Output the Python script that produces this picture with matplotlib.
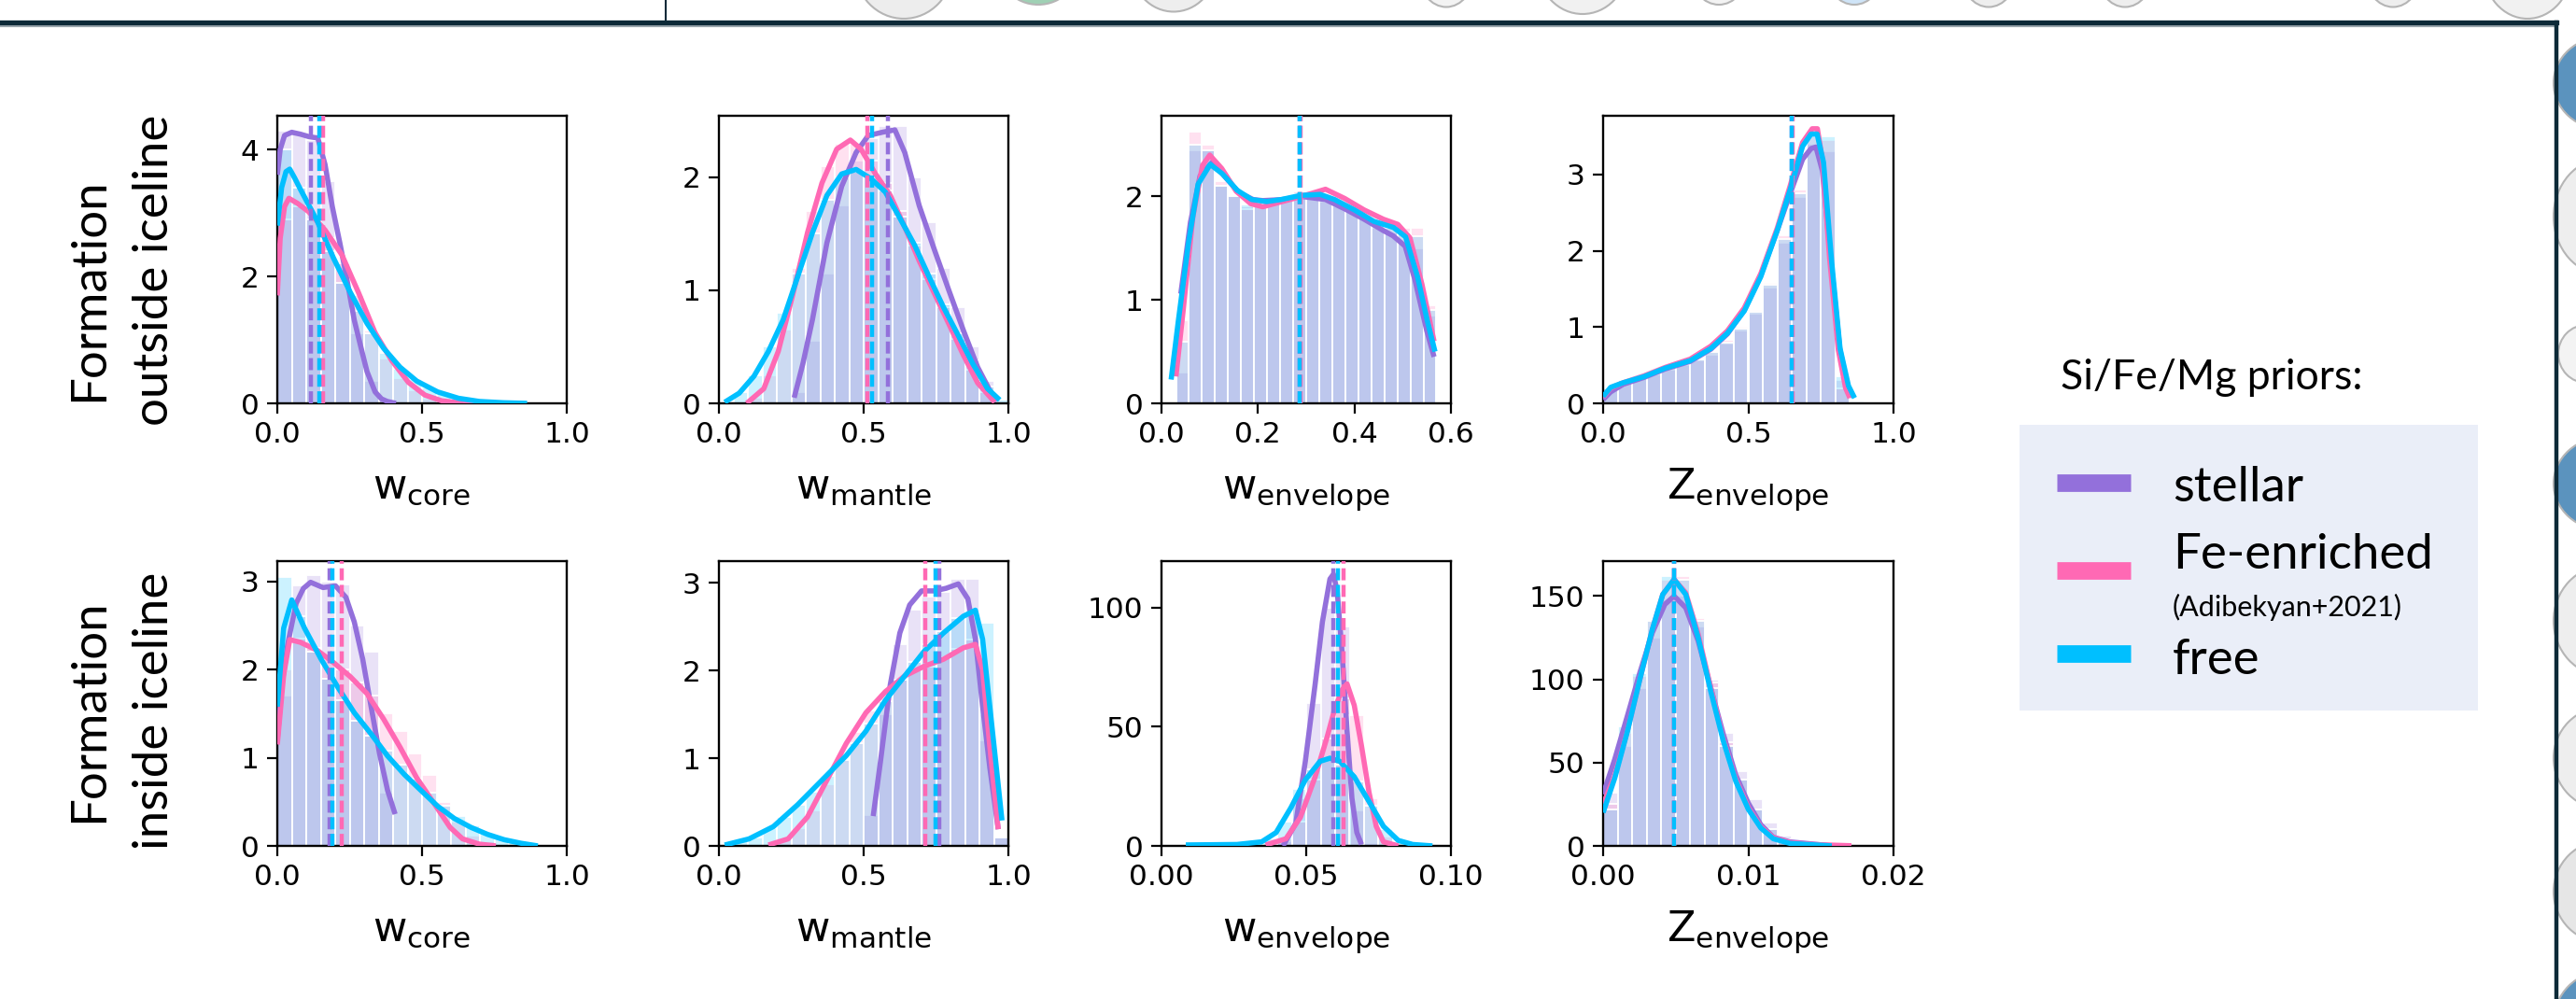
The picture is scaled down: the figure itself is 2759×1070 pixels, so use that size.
import matplotlib
matplotlib.use("Agg")
import matplotlib.pyplot as plt
from matplotlib.patches import Rectangle, Ellipse
from matplotlib.lines import Line2D
from matplotlib.colors import to_rgba

W, H = 2759, 1070

priors = ["stellar", "Fe-enriched", "free"]
prior_colors = ["#9370db", "#ff69b4", "#00bfff"]

# ---------------- formation outside iceline ----------------
out_core_kde_stellar = [(0.0, 3.6), (0.01, 4.0), (0.025, 4.22), (0.05, 4.27), (0.08, 4.24), (0.11, 4.2),
                        (0.14, 4.18), (0.165, 3.76), (0.19, 3.1), (0.216, 2.53), (0.237, 2.04), (0.266, 1.31),
                        (0.295, 0.77), (0.31, 0.5), (0.338, 0.18), (0.36, 0.07), (0.38, 0.03), (0.41, 0.0)]
out_core_kde_fe = [(0.0, 1.7), (0.01, 2.6), (0.025, 3.1), (0.04, 3.23), (0.07, 3.15), (0.108, 3.02),
                   (0.165, 2.73), (0.223, 2.34), (0.28, 1.75), (0.338, 1.11), (0.396, 0.67), (0.453, 0.33),
                   (0.51, 0.13), (0.568, 0.04), (0.626, 0.01), (0.7, 0.0)]
out_core_kde_free = [(0.0, 2.8), (0.015, 3.4), (0.03, 3.65), (0.043, 3.69), (0.06, 3.55), (0.08, 3.37),
                     (0.137, 2.88), (0.194, 2.29), (0.252, 1.75), (0.31, 1.26), (0.367, 0.87), (0.424, 0.57),
                     (0.482, 0.35), (0.554, 0.18), (0.626, 0.08), (0.698, 0.03), (0.78, 0.01), (0.863, 0.0)]
out_core_hist_stellar = [4.3, 4.25, 4.15, 3.5, 2.2, 1.1, 0.35, 0.05]
out_core_hist_fe = [2.9, 3.1, 2.9, 2.6, 2.2, 1.7, 1.15, 0.7, 0.4, 0.2, 0.08, 0.03, 0.01]
out_core_hist_free = [4.0, 3.4, 2.9, 2.4, 1.9, 1.45, 1.1, 0.8, 0.55, 0.38, 0.25, 0.15, 0.09, 0.05, 0.03,
                      0.015, 0.01]
out_core_medians = [0.115, 0.158, 0.144]

out_mantle_kde_stellar = [(0.26, 0.05), (0.29, 0.35), (0.323, 0.74), (0.373, 1.42), (0.424, 1.92), (0.474, 2.22),
                          (0.516, 2.37), (0.566, 2.40), (0.608, 2.42), (0.642, 2.22), (0.692, 1.75), (0.743, 1.37),
                          (0.793, 1.01), (0.844, 0.65), (0.894, 0.32), (0.945, 0.07), (0.96, 0.02)]
out_mantle_kde_fe = [(0.096, 0.0), (0.155, 0.13), (0.205, 0.46), (0.255, 0.96), (0.306, 1.51), (0.356, 1.95),
                     (0.407, 2.25), (0.454, 2.33), (0.491, 2.25), (0.541, 2.03), (0.592, 1.84), (0.642, 1.56),
                     (0.692, 1.26), (0.743, 0.98), (0.793, 0.71), (0.844, 0.43), (0.894, 0.18), (0.953, 0.01)]
out_mantle_kde_free = [(0.02, 0.01), (0.07, 0.09), (0.121, 0.24), (0.171, 0.46), (0.222, 0.74), (0.272, 1.12),
                       (0.323, 1.51), (0.373, 1.84), (0.424, 2.03), (0.474, 2.07), (0.524, 1.99), (0.575, 1.87),
                       (0.625, 1.64), (0.676, 1.40), (0.726, 1.12), (0.776, 0.85), (0.827, 0.60), (0.877, 0.35),
                       (0.928, 0.13), (0.97, 0.03)]
out_mantle_hist_stellar = [0, 0, 0, 0, 0, 0.1, 0.55, 1.15, 1.75, 2.15, 2.35, 2.45, 2.45, 2.0, 1.6, 1.2, 0.85,
                           0.5, 0.2, 0.03]
out_mantle_hist_fe = [0, 0, 0.05, 0.25, 0.65, 1.2, 1.7, 2.1, 2.3, 2.3, 2.15, 1.95, 1.7, 1.4, 1.1, 0.85, 0.57,
                      0.3, 0.1, 0.02]
out_mantle_hist_free = [0.02, 0.1, 0.25, 0.5, 0.8, 1.15, 1.5, 1.8, 2.0, 2.05, 2.0, 1.88, 1.65, 1.42, 1.15, 0.88,
                        0.62, 0.38, 0.15, 0.03]
out_mantle_medians = [0.583, 0.513, 0.528]

out_env_kde_stellar = [(0.04, 1.06), (0.06, 1.75), (0.08, 2.2), (0.105, 2.33), (0.13, 2.2), (0.16, 2.04),
                       (0.19, 1.97), (0.21, 1.96), (0.25, 1.97), (0.29, 2.0), (0.34, 1.97), (0.38, 1.88),
                       (0.42, 1.78), (0.46, 1.67), (0.48, 1.62), (0.505, 1.52), (0.525, 1.2), (0.55, 0.7),
                       (0.565, 0.45)]
out_env_kde_fe = [(0.03, 0.26), (0.045, 0.9), (0.065, 1.8), (0.085, 2.3), (0.1, 2.4), (0.125, 2.27),
                  (0.155, 2.05), (0.185, 1.93), (0.21, 1.9), (0.25, 1.95), (0.29, 2.0), (0.34, 2.07),
                  (0.38, 1.98), (0.42, 1.87), (0.46, 1.78), (0.49, 1.73), (0.515, 1.6), (0.54, 1.15),
                  (0.565, 0.6)]
out_env_kde_free = [(0.02, 0.23), (0.035, 0.80), (0.056, 1.55), (0.076, 2.12), (0.101, 2.31), (0.126, 2.22),
                    (0.157, 2.06), (0.187, 1.97), (0.218, 1.95), (0.248, 1.97), (0.288, 2.01), (0.329, 2.02),
                    (0.359, 1.97), (0.40, 1.87), (0.44, 1.76), (0.481, 1.70), (0.506, 1.61), (0.531, 1.22),
                    (0.551, 0.80), (0.567, 0.50)]
out_env_hist_stellar = [0.3, 2.45, 2.45, 2.1, 2.0, 1.9, 1.9, 1.95, 1.98, 2.0, 1.98, 1.95, 1.9, 1.85, 1.78, 1.7,
                        1.65, 1.55, 1.5, 0.85]
out_env_hist_fe = [0.8, 2.63, 2.5, 2.15, 2.0, 1.88, 1.9, 1.95, 2.0, 2.05, 2.05, 2.02, 1.95, 1.88, 1.82, 1.77,
                   1.72, 1.7, 1.7, 0.95]
out_env_hist_free = [0.6, 2.5, 2.45, 2.1, 2.0, 1.92, 1.93, 1.97, 2.0, 2.02, 2.02, 2.0, 1.95, 1.88, 1.8, 1.75,
                     1.7, 1.65, 1.62, 0.9]
out_env_medians = [0.286, 0.288, 0.286]

out_z_kde_stellar = [(0.0, 0.05), (0.026, 0.15), (0.069, 0.25), (0.141, 0.34), (0.213, 0.45), (0.3, 0.55),
                     (0.371, 0.71), (0.428, 0.91), (0.486, 1.22), (0.543, 1.68), (0.6, 2.27), (0.644, 2.75),
                     (0.687, 3.2), (0.716, 3.34), (0.733, 3.36), (0.755, 3.05), (0.785, 1.85), (0.815, 0.72),
                     (0.84, 0.25), (0.86, 0.08)]
out_z_kde_fe = [(0.0, 0.08), (0.026, 0.2), (0.069, 0.27), (0.141, 0.36), (0.213, 0.47), (0.3, 0.58),
                (0.371, 0.75), (0.428, 0.95), (0.486, 1.25), (0.543, 1.7), (0.6, 2.3), (0.644, 2.85),
                (0.687, 3.42), (0.72, 3.6), (0.738, 3.6), (0.755, 3.2), (0.78, 1.9), (0.81, 0.7),
                (0.835, 0.2), (0.85, 0.07)]
out_z_kde_free = [(0.0, 0.09), (0.026, 0.21), (0.069, 0.27), (0.141, 0.35), (0.213, 0.46), (0.3, 0.56),
                  (0.371, 0.72), (0.428, 0.92), (0.486, 1.21), (0.543, 1.66), (0.6, 2.27), (0.644, 2.80),
                  (0.687, 3.37), (0.716, 3.53), (0.737, 3.53), (0.759, 3.16), (0.787, 1.86), (0.816, 0.72),
                  (0.845, 0.23), (0.866, 0.07)]
out_z_hist_stellar = [0.17, 0.28, 0.33, 0.38, 0.44, 0.5, 0.56, 0.64, 0.78, 0.96, 1.18, 1.52, 2.1, 2.7, 3.4,
                      3.3, 0.3, 0.0]
out_z_hist_fe = [0.2, 0.3, 0.36, 0.42, 0.48, 0.55, 0.6, 0.7, 0.83, 1.0, 1.22, 1.58, 2.2, 2.8, 3.5, 3.45, 0.2, 0.0]
out_z_hist_free = [0.2, 0.3, 0.35, 0.4, 0.46, 0.52, 0.58, 0.67, 0.8, 0.98, 1.2, 1.55, 2.15, 2.75, 3.55, 3.5,
                   0.35, 0.02]
out_z_medians = [0.649, 0.652, 0.651]

# ---------------- formation inside iceline ----------------
in_core_kde_stellar = [(0.0, 1.2), (0.015, 1.8), (0.036, 2.29), (0.065, 2.75), (0.09, 2.92), (0.115, 2.99),
                       (0.158, 2.93), (0.201, 2.95), (0.237, 2.82), (0.266, 2.54), (0.295, 2.12), (0.324, 1.58),
                       (0.353, 1.05), (0.381, 0.63), (0.407, 0.36)]
in_core_kde_fe = [(0.0, 1.15), (0.022, 1.94), (0.043, 2.34), (0.079, 2.31), (0.137, 2.22), (0.194, 2.08),
                  (0.252, 1.92), (0.309, 1.73), (0.367, 1.44), (0.424, 1.12), (0.482, 0.77), (0.54, 0.49),
                  (0.597, 0.21), (0.64, 0.08), (0.698, 0.02), (0.755, 0.0)]
in_core_kde_free = [(0.0, 1.58), (0.022, 2.47), (0.05, 2.79), (0.094, 2.47), (0.151, 2.12), (0.209, 1.8),
                    (0.266, 1.51), (0.324, 1.27), (0.381, 1.02), (0.439, 0.81), (0.496, 0.63), (0.554, 0.45),
                    (0.612, 0.31), (0.669, 0.21), (0.727, 0.13), (0.784, 0.07), (0.842, 0.03), (0.9, 0.0)]
in_core_hist_stellar = [1.7, 2.95, 3.07, 3.0, 2.97, 2.5, 2.2, 0.6]
in_core_hist_fe = [2.0, 2.35, 2.25, 2.12, 2.0, 1.85, 1.7, 1.5, 1.3, 1.05, 0.8, 0.5, 0.28, 0.12, 0.05, 0.01]
in_core_hist_free = [3.05, 2.6, 2.2, 1.9, 1.65, 1.42, 1.25, 1.08, 0.92, 0.76, 0.6, 0.46, 0.34, 0.23, 0.15,
                     0.09, 0.05, 0.02]
in_core_medians = [0.18, 0.223, 0.19]

in_mantle_kde_stellar = [(0.533, 0.34), (0.558, 0.96), (0.592, 1.84), (0.625, 2.43), (0.659, 2.75), (0.7, 2.91),
                         (0.743, 2.91), (0.785, 2.94), (0.827, 2.99), (0.86, 2.82), (0.886, 2.36), (0.911, 1.59),
                         (0.936, 0.89), (0.965, 0.19)]
in_mantle_kde_fe = [(0.171, 0.01), (0.239, 0.08), (0.306, 0.33), (0.373, 0.75), (0.44, 1.17), (0.508, 1.52),
                    (0.575, 1.76), (0.642, 1.94), (0.709, 2.05), (0.776, 2.13), (0.844, 2.26), (0.886, 2.30),
                    (0.911, 2.01), (0.936, 1.13), (0.965, 0.19)]
in_mantle_kde_free = [(0.02, 0.01), (0.104, 0.08), (0.188, 0.22), (0.272, 0.47), (0.356, 0.75), (0.44, 1.03),
                      (0.508, 1.31), (0.575, 1.66), (0.642, 1.94), (0.709, 2.22), (0.776, 2.43), (0.844, 2.62),
                      (0.886, 2.69), (0.911, 2.36), (0.945, 1.31), (0.978, 0.29)]
in_mantle_hist_stellar = [0, 0, 0, 0, 0, 0, 0, 0, 0, 0, 0.35, 1.5, 2.3, 2.7, 2.85, 2.9, 3.05, 3.05, 1.2, 0.1]
in_mantle_hist_fe = [0, 0, 0, 0.02, 0.08, 0.2, 0.4, 0.7, 1.0, 1.3, 1.55, 1.75, 1.9, 2.0, 2.05, 2.15, 2.25,
                     2.35, 1.5, 0.1]
in_mantle_hist_free = [0.01, 0.05, 0.1, 0.2, 0.33, 0.47, 0.62, 0.8, 0.98, 1.17, 1.4, 1.65, 1.9, 2.1, 2.3, 2.45,
                       2.6, 2.65, 2.55, 0.1]
in_mantle_medians = [0.76, 0.714, 0.748]

in_env_kde_stellar = [(0.042, 0.0), (0.0464, 9.5), (0.0497, 35.5), (0.0531, 68), (0.0556, 94), (0.0582, 112),
                      (0.0594, 114), (0.0607, 107), (0.0624, 81), (0.0641, 48.6), (0.0658, 20), (0.0675, 5.6),
                      (0.0691, 0.6)]
in_env_kde_fe = [(0.036, 0.4), (0.043, 3), (0.048, 12), (0.0531, 29), (0.0573, 46), (0.0599, 57.7),
                 (0.0624, 65.5), (0.0641, 68), (0.0666, 59), (0.0691, 42), (0.0717, 22.5), (0.0742, 8.2),
                 (0.0767, 1.7), (0.0818, 0.0)]
in_env_kde_free = [(0.0084, 0.4), (0.0261, 0.6), (0.0346, 1.7), (0.0396, 5.6), (0.0447, 16), (0.0497, 27.7),
                   (0.0548, 35.5), (0.0582, 36.8), (0.0616, 35.5), (0.0666, 29), (0.0717, 18.6), (0.0767, 8.2),
                   (0.0818, 2.3), (0.0868, 0.6), (0.0936, 0.0)]
in_env_hist_stellar = [0, 0, 0, 2, 20, 60, 100, 92, 15, 1, 0, 0, 0, 0]
in_env_hist_fe = [0, 0, 0.5, 3, 10, 28, 45, 62, 55, 20, 4, 0.5, 0, 0]
in_env_hist_free = [0.5, 1, 3, 10, 24, 32, 37, 34, 27, 17, 7, 2, 0.5, 0]
in_env_medians = [0.0592, 0.0629, 0.061]

in_z_kde_stellar = [(0.0, 31), (0.0008, 52), (0.00167, 78), (0.00253, 104), (0.00339, 128), (0.00425, 145),
                    (0.00489, 150), (0.00569, 143), (0.00655, 123), (0.00741, 95), (0.00828, 67), (0.00914, 42.5),
                    (0.01, 25.7), (0.01086, 12.7), (0.01172, 5.2), (0.01287, 2.4), (0.0146, 1.0), (0.0158, 0.0)]
in_z_kde_fe = [(0.0, 25), (0.0008, 42), (0.00167, 69), (0.00253, 100), (0.00339, 130), (0.00411, 151),
               (0.00489, 160), (0.00569, 152), (0.00655, 127), (0.00741, 95), (0.00828, 64), (0.00914, 40),
               (0.01, 23), (0.01086, 11.5), (0.01172, 5), (0.01287, 2), (0.0145, 0.8), (0.0171, 0.1)]
in_z_kde_free = [(0.0, 20), (0.0008, 40.7), (0.00167, 68.7), (0.00253, 100), (0.00339, 130), (0.00411, 151),
                 (0.00489, 160), (0.00569, 151), (0.00655, 125), (0.00741, 93), (0.00828, 63), (0.00914, 38.8),
                 (0.01, 22), (0.01086, 10.8), (0.01172, 4.3), (0.01287, 1.5), (0.01575, 0.0)]
in_z_hist_stellar = [32, 60, 95, 125, 148, 150, 132, 100, 68, 45, 28, 14, 6, 3, 1.5, 0.5, 0]
in_z_hist_fe = [25, 68, 102, 135, 160, 162, 137, 98, 62, 40, 22, 10, 4, 1.5, 0.8, 0.4, 0.2]
in_z_hist_free = [22, 72, 104, 135, 162, 160, 135, 95, 60, 40, 22, 10, 4, 1.5, 0.5, 0, 0]
in_z_medians = [0.0049, 0.0049, 0.0049]

label_core = r"w$_{\mathrm{core}}$"
label_mantle = r"w$_{\mathrm{mantle}}$"
label_env = r"w$_{\mathrm{envelope}}$"
label_z = r"Z$_{\mathrm{envelope}}$"

unit_ticks = [0, 0.5, 1.0]
unit_labels = ["0.0", "0.5", "1.0"]

panels = [
    # (pixel box, xlim, ylim, xticks, xticklabels, yticks, bin start, bin width, hists, kdes, medians, xlabel)
    ((297, 124, 607, 432), (0, 1), (0, 4.53), unit_ticks, unit_labels, [0, 2, 4], 0.0, 0.05,
     (out_core_hist_stellar, out_core_hist_fe, out_core_hist_free),
     (out_core_kde_stellar, out_core_kde_fe, out_core_kde_free), out_core_medians, label_core),
    ((770, 124, 1080, 432), (0, 1), (0, 2.545), unit_ticks, unit_labels, [0, 1, 2], 0.0, 0.05,
     (out_mantle_hist_stellar, out_mantle_hist_fe, out_mantle_hist_free),
     (out_mantle_kde_stellar, out_mantle_kde_fe, out_mantle_kde_free), out_mantle_medians, label_mantle),
    ((1244, 124, 1554, 432), (0, 0.6), (0, 2.78), [0, 0.2, 0.4, 0.6], ["0.0", "0.2", "0.4", "0.6"], [0, 1, 2],
     0.03, 0.027,
     (out_env_hist_stellar, out_env_hist_fe, out_env_hist_free),
     (out_env_kde_stellar, out_env_kde_fe, out_env_kde_free), out_env_medians, label_env),
    ((1717, 124, 2028, 432), (0, 1), (0, 3.77), unit_ticks, unit_labels, [0, 1, 2, 3], 0.0, 0.05,
     (out_z_hist_stellar, out_z_hist_fe, out_z_hist_free),
     (out_z_kde_stellar, out_z_kde_fe, out_z_kde_free), out_z_medians, label_z),
    ((297, 601, 607, 906), (0, 1), (0, 3.23), unit_ticks, unit_labels, [0, 1, 2, 3], 0.0, 0.05,
     (in_core_hist_stellar, in_core_hist_fe, in_core_hist_free),
     (in_core_kde_stellar, in_core_kde_fe, in_core_kde_free), in_core_medians, label_core),
    ((770, 601, 1080, 906), (0, 1), (0, 3.25), unit_ticks, unit_labels, [0, 1, 2, 3], 0.0, 0.05,
     (in_mantle_hist_stellar, in_mantle_hist_fe, in_mantle_hist_free),
     (in_mantle_kde_stellar, in_mantle_kde_fe, in_mantle_kde_free), in_mantle_medians, label_mantle),
    ((1244, 601, 1554, 906), (0, 0.1), (0, 119.5), [0, 0.05, 0.1], ["0.00", "0.05", "0.10"], [0, 50, 100],
     0.025, 0.005,
     (in_env_hist_stellar, in_env_hist_fe, in_env_hist_free),
     (in_env_kde_stellar, in_env_kde_fe, in_env_kde_free), in_env_medians, label_env),
    ((1717, 601, 2028, 906), (0, 0.02), (0, 171), [0, 0.01, 0.02], ["0.00", "0.01", "0.02"], [0, 50, 100, 150],
     0.0, 0.001,
     (in_z_hist_stellar, in_z_hist_fe, in_z_hist_free),
     (in_z_kde_stellar, in_z_kde_fe, in_z_kde_free), in_z_medians, label_z),
]

row_labels = [("Formation", 96, 310), ("outside iceline", 165, 289),
              ("Formation", 96, 761), ("inside iceline", 165, 761)]

# decorative circles of the slide (x, y, width, height in pixels)
deco_blobs = [(968, -35, 105, 110, "#ededed"), (1112, -40, 90, 90, "#9fd0b4"), (1257, -35, 90, 95, "#eeeeee"),
              (1549, -30, 60, 75, "#f3f3f3"), (1695, -35, 95, 100, "#f1f1f1"), (1841, -30, 60, 70, "#f3f3f3"),
              (1986, -30, 60, 70, "#cfe4f7"), (2130, -30, 60, 75, "#eeeeee"), (2276, -30, 60, 75, "#eeeeee"),
              (2563, -30, 60, 75, "#eeeeee"), (2707, -35, 95, 110, "#f1f1f1"),
              (2790, 89, 110, 100, "#5b93be"), (2790, 232, 110, 125, "#eeeeee"), (2770, 379, 60, 62, "#f3f3f3"),
              (2790, 518, 110, 100, "#5b93be"), (2790, 665, 110, 118, "#eeeeee"), (2790, 812, 110, 110, "#eeeeee"),
              (2790, 955, 110, 110, "#e6e6e6"), (2790, 1095, 110, 110, "#5b93be")]

NAVY = "#0d2a38"


def px_rect(x0, y0, x1, y1):
    return [x0 / W, 1 - y1 / H, (x1 - x0) / W, (y1 - y0) / H]


fig = plt.figure(figsize=(W / 100, H / 100), dpi=100)
fig.patch.set_facecolor("white")

# slide decoration
for cx, cy, w, h, c in deco_blobs:
    fig.patches.append(Ellipse((cx / W, 1 - cy / H), w / W, h / H, transform=fig.transFigure,
                               facecolor=c, edgecolor="#b5b5b5", lw=1.5, zorder=0))
fig.add_artist(Line2D([0, 2738 / W], [1 - 28 / H] * 2, color="#9aa6ad", lw=1.6, transform=fig.transFigure))
fig.add_artist(Line2D([0, 2738 / W], [1 - 24 / H] * 2, color=NAVY, lw=3.8, transform=fig.transFigure))
fig.add_artist(Line2D([713 / W] * 2, [1, 1 - 24 / H], color=NAVY, lw=1.5, transform=fig.transFigure))
fig.add_artist(Line2D([2738 / W] * 2, [1 - 24 / H, 0], color=NAVY, lw=3.2, transform=fig.transFigure))

for (box, xlim, ylim, xticks, xticklabels, yticks, b0, bw, hists, kdes, medians, xlabel) in panels:
    ax = fig.add_axes(px_rect(*box))
    for heights, c in zip(hists, prior_colors):
        lefts = [b0 + i * bw for i in range(len(heights))]
        ax.bar(lefts, heights, width=bw, align="edge", facecolor=to_rgba(c, 0.2),
               edgecolor="white", linewidth=1.3, zorder=1)
    for pts, c in zip(kdes, prior_colors):
        xs, ys = zip(*pts)
        ax.plot(xs, ys, color=c, lw=4.0, solid_capstyle="butt", solid_joinstyle="round", zorder=3)
    for m, c in zip(medians, prior_colors):
        ax.axvline(m, color=c, lw=3.2, ls=(0, (2.9, 1.1)), zorder=4)
    ax.set_xlim(*xlim)
    ax.set_ylim(*ylim)
    ax.set_xticks(xticks, xticklabels)
    ax.set_yticks(yticks)
    ax.tick_params(direction="out", length=8, width=1.6, labelsize=22.5, pad=6)
    for s in ax.spines.values():
        s.set_linewidth(1.7)
    ax.set_xlabel(xlabel, fontsize=32, va="baseline")
    ax.xaxis.set_label_coords(0.5, -102 / (box[3] - box[1]))

for txt, x, y in row_labels:
    fig.text(x / W, 1 - y / H, txt, rotation=90, ha="center", va="center", fontsize=38, family="Lato")

# legend
fig.text(2207 / W, 1 - 417 / H, "Si/Fe/Mg priors:", ha="left", va="baseline", fontsize=32, family="Lato")
fig.patches.append(Rectangle((2163 / W, 1 - 761 / H), 491 / W, 306 / H, transform=fig.transFigure,
                             facecolor="#eaeef8", edgecolor="none", zorder=0))
for name, c, y in zip(priors, prior_colors, [517, 611, 700]):
    fig.add_artist(Line2D([2203 / W, 2282 / W], [1 - y / H] * 2, color=c, lw=13.5,
                          solid_capstyle="butt", transform=fig.transFigure))
fig.text(2327 / W, 1 - 537 / H, "stellar", ha="left", va="baseline", fontsize=38, family="Lato")
fig.text(2327 / W, 1 - 609 / H, "Fe-enriched", ha="left", va="baseline", fontsize=38, family="Lato")
fig.text(2327 / W, 1 - 660 / H, "(Adibekyan+2021)", ha="left", va="baseline", fontsize=22, family="Lato")
fig.text(2327 / W, 1 - 722 / H, "free", ha="left", va="baseline", fontsize=38, family="Lato")

fig.savefig("out.png", dpi=100, facecolor="white")
